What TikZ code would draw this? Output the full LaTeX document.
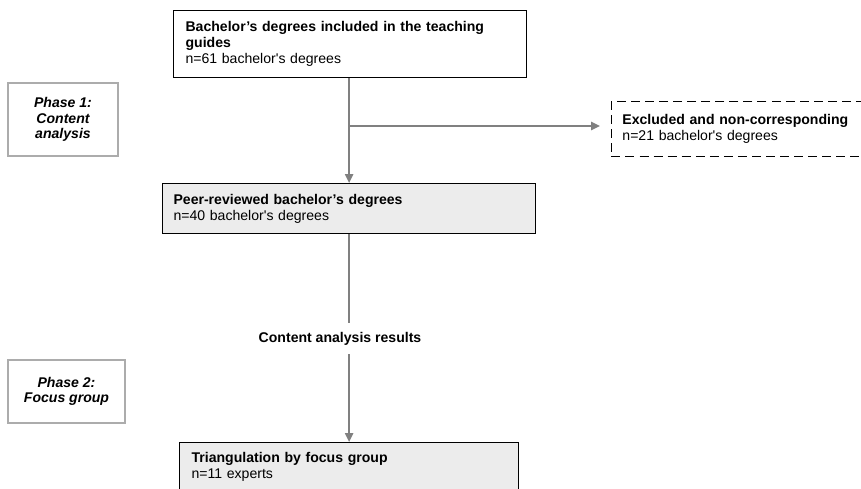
\documentclass[tikz,border=0pt]{standalone}
\usepackage{fontspec}
\setmainfont{Liberation Sans}
\usetikzlibrary{arrows.meta}

\begin{document}
\begin{tikzpicture}[x=0.025cm,y=0.025cm]
  \tikzset{box/.style = {draw=black, line width=0.8pt, fill=white, anchor=north west, align=left, inner xsep=0.3cm, font=\fontsize{10}{11.3}\selectfont}}
  \tikzset{greybox/.style = {box, fill=gray!15}}
  \tikzset{exclbox/.style = {box, line width=0.6pt, dash pattern=on 6.4pt off 3.6pt}}
  \tikzset{phase/.style = {draw=gray!65, line width=0.8pt, align=center, font=\fontsize{10}{11}\selectfont\bfseries\itshape}}
  \tikzset{edge/.style = {draw=gray, line width=1.4pt, -{Triangle[length=0.22cm,width=0.2cm]}}}

  \useasboundingbox (0,0) rectangle (861,488);
  \clip (0,0) rectangle (861,488);

	\node[box, text width=8.225cm, minimum height=1.675cm] (guides) at (173,478) {\textbf{Bachelor's degrees included in the teaching}\\\textbf{guides}\\n=61 bachelor\textquotesingle s degrees};
	\node[exclbox, inner xsep=0.275cm, text width=6.675cm, minimum height=1.375cm] (excl) at (611,387) {\textbf{Excluded and non-corresponding}\\n=21 bachelor\textquotesingle s degrees};
	\node[greybox, inner xsep=0.275cm, text width=8.775cm, minimum height=1.25cm] (peer) at (162,305) {\textbf{Peer-reviewed bachelor's degrees}\\n=40 bachelor\textquotesingle s degrees};
	\node[font=\fontsize{10}{11.3}\selectfont\bfseries, inner sep=0pt, minimum height=0.775cm] (res) at (340,149.5) {Content analysis results};
	\node[greybox, inner ysep=6.9pt, text width=7.875cm, text height=7.3pt, text depth=3cm] (tri) at (179,46) {\textbf{Triangulation by focus group}\\n=11 experts};

	\node[phase, minimum width=2.75cm, minimum height=1.825cm] (ph1) at (63,368.5) {Phase 1:\\Content\\analysis};
	\node[phase, minimum width=2.925cm, minimum height=1.575cm] (ph2) at (66.5,96.5) {Phase 2:\\Focus group};

	\coordinate (split) at (peer.north |- 0,362);

    \foreach \from/\to in {guides.south -| peer.north/peer.north, peer.south |- res.south/peer.south |- tri.north}
    \draw[edge] (\from) -- (\to);

    \draw[edge, -] (peer.south) -- (peer.south |- res.north);
    \draw[edge, shorten >=0.275cm] (split) -- (split -| excl.west);

\end{tikzpicture}
\end{document}
